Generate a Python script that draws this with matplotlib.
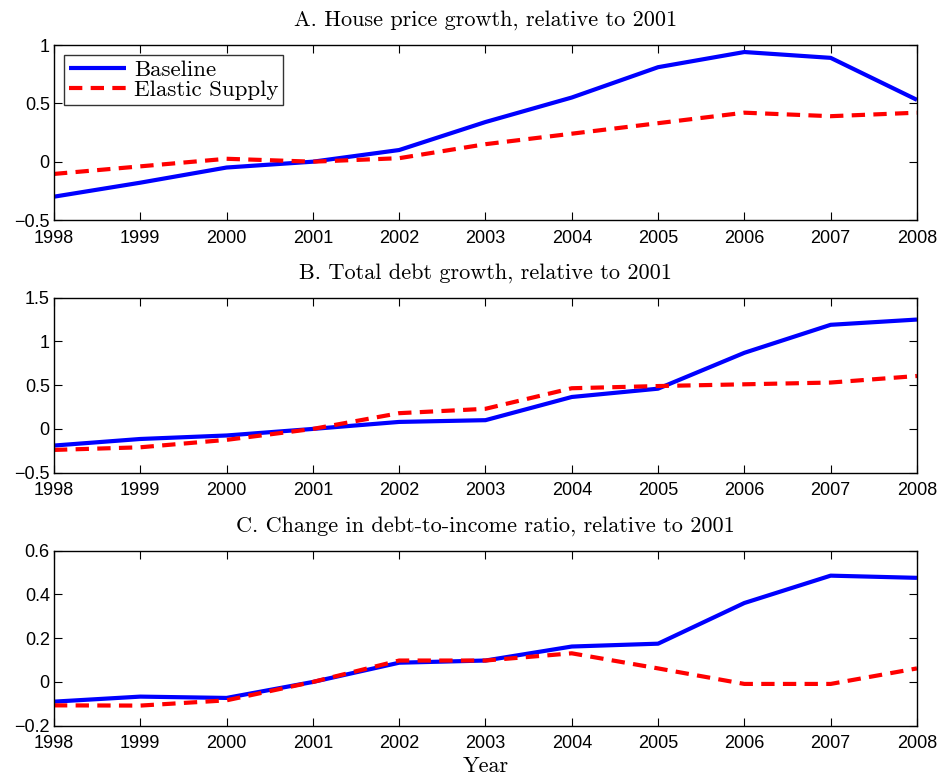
import matplotlib
matplotlib.use("Agg")
import matplotlib.pyplot as plt
from matplotlib import rcParams

rcParams.update(
    {
        "font.family": "Liberation Sans",
        "font.size": 13,
        "axes.unicode_minus": True,
        "xtick.direction": "in",
        "ytick.direction": "in",
        "xtick.top": True,
        "ytick.right": True,
        "xtick.major.size": 6,
        "ytick.major.size": 6,
        "axes.linewidth": 1.0,
    }
)

TITLE_FONT = "cmr10"

years = list(range(1998, 2009))

# Panel A: house price growth
price_baseline = [-0.30, -0.18, -0.05, 0.00, 0.10, 0.34, 0.55, 0.81, 0.94, 0.89, 0.53]
price_elastic = [-0.105, -0.04, 0.025, 0.00, 0.03, 0.15, 0.24, 0.33, 0.42, 0.39, 0.42]

# Panel B: total debt growth
debt_baseline = [-0.19, -0.115, -0.075, 0.00, 0.08, 0.10, 0.365, 0.46, 0.87, 1.19, 1.25]
debt_elastic = [-0.24, -0.21, -0.125, 0.00, 0.18, 0.23, 0.465, 0.49, 0.51, 0.53, 0.605]

# Panel C: debt-to-income ratio
dti_baseline = [-0.09, -0.067, -0.073, 0.00, 0.088, 0.098, 0.162, 0.175, 0.361, 0.486, 0.476]
dti_elastic = [-0.107, -0.108, -0.084, 0.00, 0.098, 0.098, 0.131, 0.062, -0.009, -0.009, 0.062]

panels = [
    ("A. House price growth, relative to 2001", price_baseline, price_elastic,
     (-0.5, 1.0), [-0.5, 0, 0.5, 1], ["\u22120.5", "0", "0.5", "1"]),
    ("B. Total debt growth, relative to 2001", debt_baseline, debt_elastic,
     (-0.5, 1.5), [-0.5, 0, 0.5, 1, 1.5], ["\u22120.5", "0", "0.5", "1", "1.5"]),
    ("C. Change in debt-to-income ratio, relative to 2001", dti_baseline, dti_elastic,
     (-0.2, 0.6), [-0.2, 0, 0.2, 0.4, 0.6], ["\u22120.2", "0", "0.2", "0.4", "0.6"]),
]

fig = plt.figure(figsize=(9.4, 7.75), dpi=100)
bottoms = [0.7161, 0.3901, 0.0636]
left, width, height = 0.0574, 0.9181, 0.2258

for i, (title, base, elastic, ylim, yticks, ylabels) in enumerate(panels):
    ax = fig.add_axes([left, bottoms[i], width, height])
    ax.plot(years, base, color="#0000ff", lw=3.0, solid_capstyle="butt", label="Baseline")
    ax.plot(years, elastic, color="#ff0000", lw=3.0, dashes=(3.2, 2.0), label="Elastic Supply")
    ax.set_xlim(1998, 2008)
    ax.set_ylim(*ylim)
    ax.set_xticks(years)
    ax.set_xticklabels([str(y) for y in years])
    ax.set_yticks(yticks)
    ax.set_yticklabels(ylabels)
    ax.tick_params(axis="x", pad=7)
    ax.tick_params(axis="y", pad=3)
    ax.set_title(title, fontfamily=TITLE_FONT, fontsize=16, pad=14)
    if i == 0:
        leg = ax.legend(loc="upper left", prop={"family": TITLE_FONT, "size": 16.5},
                        frameon=True, fancybox=False, edgecolor="black",
                        borderpad=0.2, labelspacing=0.0, handlelength=2.5,
                        handletextpad=0.35, borderaxespad=0.45)
        leg.get_frame().set_linewidth(1.0)
    if i == 2:
        ax.set_xlabel("Year", fontfamily=TITLE_FONT, fontsize=16, labelpad=3)

fig.savefig("out.png", dpi=100)
